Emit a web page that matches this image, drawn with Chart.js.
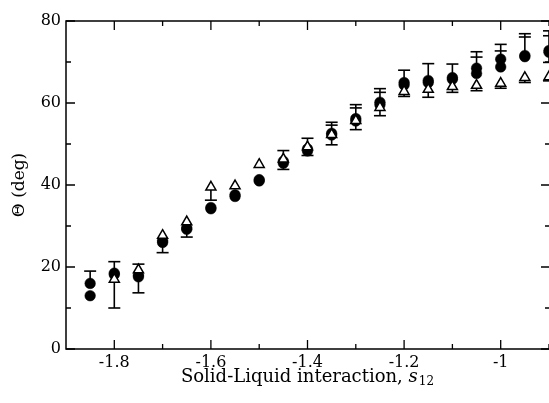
<!DOCTYPE html>
<html>
<head>
<meta charset="utf-8">
<script src="https://cdn.jsdelivr.net/npm/chart.js@4/dist/chart.umd.min.js"></script>
<style>
html,body{margin:0;padding:0;background:#fff;}
#wrap{width:549px;height:403px;}
</style>
</head>
<body>
<div id="wrap"><canvas id="c" width="549" height="403"></canvas></div>
<script>
// ---- data ----
const xValues = [-1.85, -1.8, -1.75, -1.7, -1.65, -1.6, -1.55, -1.5, -1.45, -1.4,
                 -1.35, -1.3, -1.25, -1.2, -1.15, -1.1, -1.05, -1.0, -0.95, -0.9];

const circleA = [16, 18.5, 18, 26, 29.5, 34.2, 37.2, 41.3, 45.8, 48.8,
                 52.2, 56.2, 60.2, 65, 65.5, 66.2, 68.5, 70.7, 71.3, 72.8];
const circleB = [13, 18.2, 17.6, 26.4, 29.2, 34.5, 37.6, 41, 45.3, 48.3,
                 52.6, 55.6, 59.6, 64.4, 65, 65.8, 67.2, 68.8, 71.6, 72.4];
const circleErrHigh = [19, 21.3, 20.7, null, null, null, null, null, 48.4, 51.4,
                       55.3, 59.6, 63.5, 68, 69.6, 69.5, 72.5, 74.3, 76.9, 77.6];
const circleErrHigh2 = [null, null, null, null, null, null, null, null, null, null,
                        54.6, 58.8, 62.6, null, null, null, 71.2, 72.7, 76.1, 76.4];
const circleErrLow = [null, 10, 13.7, 23.5, 27.3, null, null, null, null, null,
                      null, null, null, null, null, null, null, null, null, 69.9];

const triangleVals = [null, 17, 19.3, 27.7, 31, 39.5, 39.8, 45, 46.3, 49.3,
                      52.3, 55.7, 58.9, 62.8, 63.3, 64, 64.3, 64.8, 66.2, 66.4];
const triangleErrLow = [null, null, null, null, null, 36.3, null, null, 43.8, 47.2,
                        49.8, 53.5, 56.9, 61.6, 61.4, 62.6, 63, 63.6, 65, 65.4];

const xTickValues = [-1.8, -1.6, -1.4, -1.2, -1.0];
const xTickLabels = ['-1.8', '-1.6', '-1.4', '-1.2', '-1'];
const xMinorTicks = [-1.7, -1.5, -1.3, -1.1, -0.9];
const yTickValues = [0, 20, 40, 60, 80];
const yTickLabels = ['0', '20', '40', '60', '80'];
const yMinorTicks = [10, 30, 50, 70];

const xTitleMain = 'Solid-Liquid interaction, ';
const xTitleVar = 's';
const xTitleSub = '12';
const yTitle = '\u0398 (deg)';

// ---- rendering ----
const FONT = '"DejaVu Serif", "Liberation Serif", serif';

function pts(vals) {
  return xValues.map((x, i) => ({ x: x, y: vals[i] })).filter(p => p.y != null);
}

const errorBarPlugin = {
  id: 'errorBars',
  beforeDatasetsDraw(chart) {
    const { ctx, scales: { x, y } } = chart;
    const cap = 6;
    ctx.save();
    ctx.strokeStyle = '#000';
    ctx.lineWidth = 1.6;
    const vline = (px, v0, v1) => {
      ctx.beginPath();
      ctx.moveTo(px, y.getPixelForValue(v0));
      ctx.lineTo(px, y.getPixelForValue(v1));
      ctx.stroke();
    };
    const capAt = (px, v) => {
      if (v == null) return;
      const py = y.getPixelForValue(v);
      ctx.beginPath();
      ctx.moveTo(px - cap, py);
      ctx.lineTo(px + cap, py);
      ctx.stroke();
    };
    for (let i = 0; i < xValues.length; i++) {
      const px = x.getPixelForValue(xValues[i]);
      const c = circleA[i];
      const lo = circleErrLow[i] != null ? circleErrLow[i] : c;
      const hi = circleErrHigh[i] != null ? circleErrHigh[i] : c;
      vline(px, lo, hi);
      capAt(px, circleErrLow[i]);
      capAt(px, circleErrHigh[i]);
      capAt(px, circleErrHigh2[i]);
      if (triangleVals[i] != null && triangleErrLow[i] != null) {
        vline(px, triangleErrLow[i], triangleVals[i]);
        capAt(px, triangleErrLow[i]);
      }
    }
    ctx.restore();
  }
};

const framePlugin = {
  id: 'frame',
  afterDatasetsDraw(chart) {
    const { ctx, chartArea: a, scales: { x, y } } = chart;
    ctx.save();
    ctx.strokeStyle = '#000';
    ctx.lineWidth = 1.5;
    ctx.beginPath();
    ctx.moveTo(a.right + 3, a.top);
    ctx.lineTo(a.left, a.top);
    ctx.lineTo(a.left, a.bottom);
    ctx.lineTo(a.right + 3, a.bottom);
    ctx.stroke();
    const major = 9, minor = 5;
    ctx.lineWidth = 1.3;
    ctx.beginPath();
    xTickValues.forEach(v => {
      const px = x.getPixelForValue(v);
      ctx.moveTo(px, a.bottom); ctx.lineTo(px, a.bottom - major);
      ctx.moveTo(px, a.top); ctx.lineTo(px, a.top + major);
    });
    xMinorTicks.forEach(v => {
      const px = x.getPixelForValue(v);
      ctx.moveTo(px, a.bottom); ctx.lineTo(px, a.bottom - minor);
      ctx.moveTo(px, a.top); ctx.lineTo(px, a.top + minor);
    });
    yTickValues.forEach(v => {
      const py = y.getPixelForValue(v);
      ctx.moveTo(a.left, py); ctx.lineTo(a.left + major, py);
      ctx.moveTo(a.right + 1, py); ctx.lineTo(a.right + 1 - major, py);
    });
    yMinorTicks.forEach(v => {
      const py = y.getPixelForValue(v);
      ctx.moveTo(a.left, py); ctx.lineTo(a.left + minor, py);
      ctx.moveTo(a.right + 1, py); ctx.lineTo(a.right + 1 - minor, py);
    });
    ctx.stroke();
    ctx.restore();
  },
  afterDraw(chart) {
    const { ctx, chartArea: a } = chart;
    ctx.save();
    ctx.fillStyle = '#000';
    ctx.textBaseline = 'alphabetic';
    ctx.font = '18px ' + FONT;
    const w1 = ctx.measureText(xTitleMain).width;
    ctx.font = 'italic 18px ' + FONT;
    const w2 = ctx.measureText(xTitleVar).width;
    ctx.font = '12px ' + FONT;
    const w3 = ctx.measureText(xTitleSub).width;
    const total = w1 + w2 + w3 + 1;
    let sx = (a.left + a.right) / 2 - total / 2;
    const base = 382;
    ctx.font = '18px ' + FONT;
    ctx.fillText(xTitleMain, sx, base);
    sx += w1;
    ctx.font = 'italic 18px ' + FONT;
    ctx.fillText(xTitleVar, sx, base);
    sx += w2 + 1;
    ctx.font = '12px ' + FONT;
    ctx.fillText(xTitleSub, sx, base + 3);
    ctx.restore();
  }
};

function noPad(s) {
  s.paddingLeft = 0; s.paddingRight = 0; s.paddingTop = 0; s.paddingBottom = 0;
}

new Chart(document.getElementById('c'), {
  type: 'scatter',
  data: {
    datasets: [
      {
        label: 'triangles',
        data: pts(triangleVals),
        pointStyle: 'triangle',
        pointRadius: 5.8,
        pointBackgroundColor: '#fff',
        pointBorderColor: '#000',
        pointBorderWidth: 1.5,
        order: 0
      },
      {
        label: 'circles A',
        data: pts(circleA),
        pointStyle: 'circle',
        pointRadius: 5.3,
        pointBackgroundColor: '#000',
        pointBorderColor: '#000',
        pointBorderWidth: 0.5,
        order: 1
      },
      {
        label: 'circles B',
        data: pts(circleB),
        pointStyle: 'circle',
        pointRadius: 5.3,
        pointBackgroundColor: '#000',
        pointBorderColor: '#000',
        pointBorderWidth: 0.5,
        order: 2
      }
    ]
  },
  options: {
    responsive: false,
    animation: false,
    events: [],
    layout: { autoPadding: false, padding: { top: 21, right: 0, bottom: 0, left: 0 } },
    plugins: { legend: { display: false }, tooltip: { enabled: false } },
    scales: {
      x: {
        type: 'linear',
        position: 'bottom',
        min: -1.9,
        max: -0.9,
        afterBuildTicks: s => { s.ticks = xTickValues.map(v => ({ value: v })); },
        afterFit: s => { s.height = 54; noPad(s); },
        grid: { display: false, drawTicks: false },
        border: { display: false },
        ticks: {
          padding: 4,
          color: '#000',
          font: { family: FONT, size: 16 },
          maxRotation: 0,
          autoSkip: false,
          callback: v => { const k = xTickValues.findIndex(t => Math.abs(t - v) < 1e-9); return k >= 0 ? xTickLabels[k] : ''; }
        }
      },
      y: {
        type: 'linear',
        min: 0,
        max: 80,
        afterBuildTicks: s => { s.ticks = yTickValues.map(v => ({ value: v })); },
        afterFit: s => { s.width = 66; noPad(s); },
        grid: { display: false, drawTicks: false },
        border: { display: false },
        title: {
          display: true,
          text: yTitle,
          color: '#000',
          font: { family: FONT, size: 17 },
          padding: { top: 9, bottom: 0 }
        },
        ticks: {
          padding: 5,
          color: '#000',
          font: { family: FONT, size: 16 },
          autoSkip: false,
          callback: v => { const k = yTickValues.indexOf(v); return k >= 0 ? yTickLabels[k] : ''; }
        }
      }
    }
  },
  plugins: [errorBarPlugin, framePlugin]
});
</script>
</body>
</html>
